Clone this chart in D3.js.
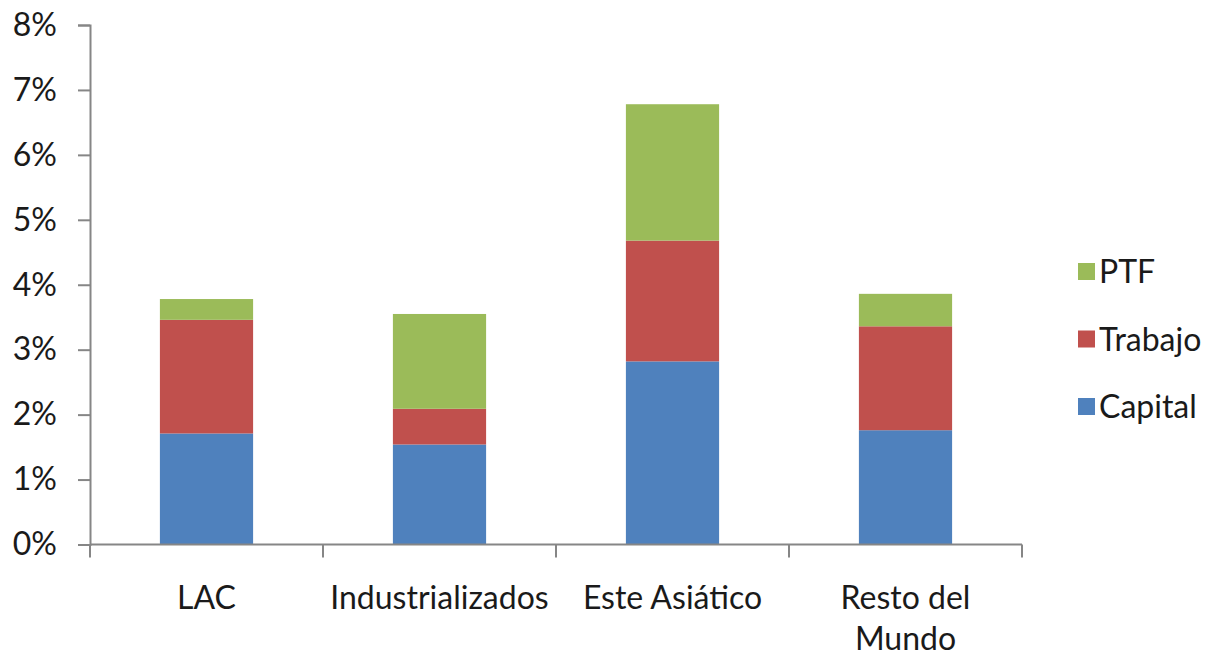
<!DOCTYPE html>
<html>
<head>
<meta charset="utf-8">
<script src="https://cdn.jsdelivr.net/npm/d3@7"></script>
<style>
  html, body { margin: 0; padding: 0; background: #fff; }
  svg { display: block; }
  text { font-family: Lato, "Open Sans", sans-serif; fill: #1a1a1a; }
</style>
</head>
<body>
<svg id="chart" width="1215" height="659"></svg>
<script>
const categories = ["LAC", "Industrializados", "Este Asiático", "Resto del Mundo"];
const categoryLines = [["LAC"], ["Industrializados"], ["Este Asiático"], ["Resto del", "Mundo"]];
const seriesNames = ["Capital", "Trabajo", "PTF"];
const capital = [1.71, 1.54, 2.82, 1.76];
const trabajo = [1.75, 0.55, 1.86, 1.60];
const ptf     = [0.32, 1.46, 2.10, 0.50];
const colors = ["#4F81BD", "#C0504D", "#9BBB59"];
const yTicks = [0, 1, 2, 3, 4, 5, 6, 7, 8];

(function () {
const svg = d3.select("#chart");
const mLeft = 90, mRight = 1022, mTop = 25, mBottom = 544.5;
const fs = 32;

const rows = categories.map((c, i) => ({ cat: c, Capital: capital[i], Trabajo: trabajo[i], PTF: ptf[i] }));
const stack = d3.stack().keys(seriesNames)(rows);

const x = d3.scaleBand().domain(categories).range([mLeft, mRight]).paddingInner(0.6).paddingOuter(0.3);
const xCell = d3.scaleBand().domain(categories).range([mLeft, mRight]).padding(0);
const y = d3.scaleLinear().domain([0, 8]).range([mBottom, mTop]);
const color = d3.scaleOrdinal().domain(seriesNames).range(colors);

// bars
svg.append("g").selectAll("g").data(stack).join("g")
  .attr("fill", d => color(d.key))
  .selectAll("rect").data(d => d).join("rect")
  .attr("x", d => x(d.data.cat))
  .attr("width", x.bandwidth())
  .attr("y", d => y(d[1]))
  .attr("height", d => y(d[0]) - y(d[1]));

// y axis
const yAxis = svg.append("g").attr("transform", `translate(${mLeft},0)`)
  .call(d3.axisLeft(y).tickValues(yTicks).tickFormat(d => d + "%").tickSize(12).tickPadding(21));
yAxis.select(".domain").attr("stroke", "#868686").attr("stroke-width", 2);
yAxis.selectAll(".tick line").attr("stroke", "#868686").attr("stroke-width", 2);
yAxis.selectAll(".tick text").attr("font-size", fs).attr("font-family", "Lato, sans-serif").attr("fill", "#1a1a1a");

// x axis
const xg = svg.append("g");
xg.append("line").attr("x1", mLeft).attr("x2", mRight).attr("y1", mBottom).attr("y2", mBottom)
  .attr("stroke", "#868686").attr("stroke-width", 2);
const bounds = categories.map(c => xCell(c)).concat([xCell.range()[1]]);
xg.selectAll("line.bt").data(bounds).join("line").attr("class", "bt")
  .attr("x1", d => d).attr("x2", d => d).attr("y1", mBottom).attr("y2", mBottom + 13)
  .attr("stroke", "#868686").attr("stroke-width", 2);
const labels = xg.selectAll("text.cl").data(categories).join("text").attr("class", "cl")
  .attr("x", d => xCell(d) + xCell.bandwidth() / 2)
  .attr("y", 609)
  .attr("text-anchor", "middle")
  .attr("font-size", fs);
labels.each(function(d, i) {
  const t = d3.select(this);
  categoryLines[i].forEach((line, j) => {
    t.append("tspan").attr("x", xCell(d) + xCell.bandwidth() / 2).attr("dy", j === 0 ? 0 : 41).text(line);
  });
});

// legend (top to bottom: PTF, Trabajo, Capital)
const legendOrder = seriesNames.slice().reverse();
const lg = svg.append("g").selectAll("g").data(legendOrder).join("g")
  .attr("transform", (d, i) => `translate(1078, ${263 + i * 67.5})`);
lg.append("rect").attr("width", 17).attr("height", 17).attr("fill", d => color(d));
lg.append("text").attr("x", 21).attr("y", 20).attr("font-size", fs).text(d => d);
})();
</script>
</body>
</html>
